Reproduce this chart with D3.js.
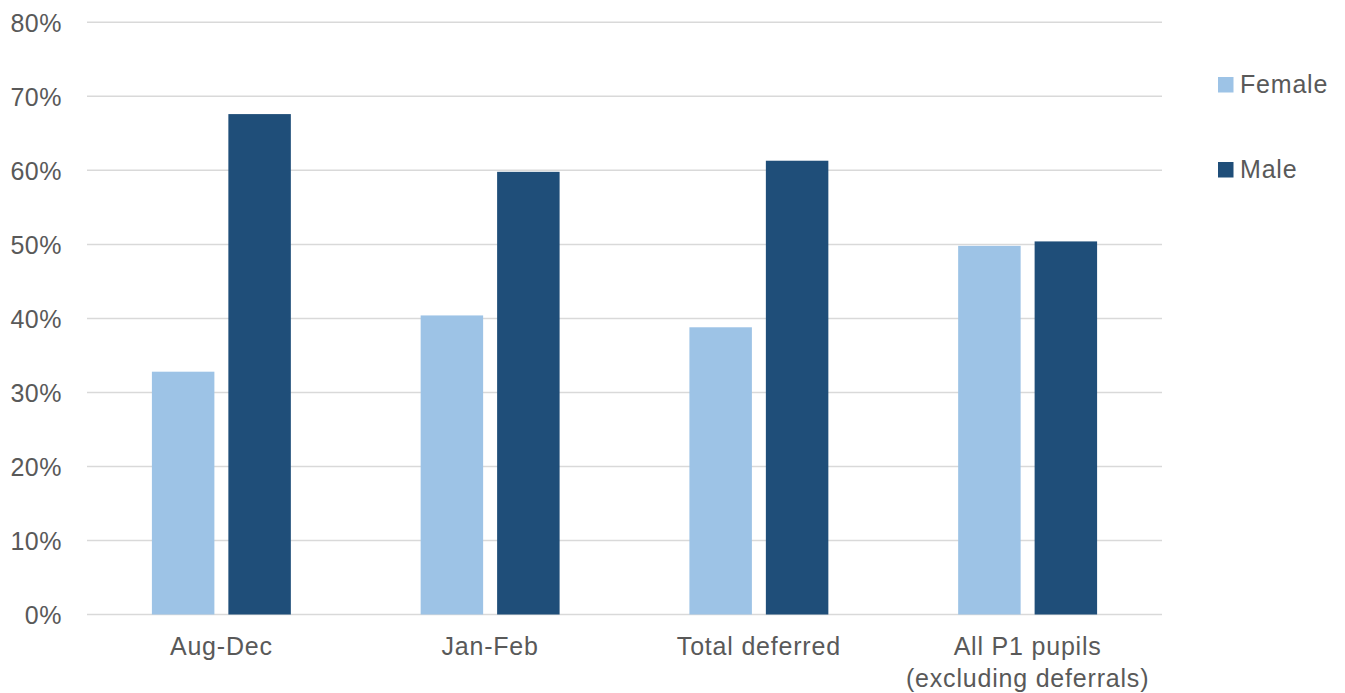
<!DOCTYPE html>
<html><head><meta charset="utf-8">
<script src="https://cdn.jsdelivr.net/npm/d3@7"></script>
<style>html,body{margin:0;padding:0;background:#fff;}</style>
</head><body><svg id="c" width="1345" height="693"></svg>
<script>
const categories = ["Aug-Dec", "Jan-Feb", "Total deferred", "All P1 pupils\n(excluding deferrals)"];
const seriesNames = ["Female", "Male"];
const female = [32.8, 40.4, 38.8, 49.8];
const male = [67.6, 59.8, 61.3, 50.4];
const yTicks = [0, 10, 20, 30, 40, 50, 60, 70, 80];
const colors = ["#9dc3e6", "#1f4e79"];

(function () {
const svg = d3.select("#c");
const font = "'Liberation Sans', Arial, sans-serif";
const pLeft = 87, pRight = 1162, pTop = 22.3, pBottom = 614.5;
const x = d3.scaleBand().domain(categories).range([pLeft, pRight]).padding(0);
const y = d3.scaleLinear().domain([0, 80]).range([pBottom, pTop]);
const bw = x.bandwidth() * 0.2325, gap = x.bandwidth() * 0.052;

// gridlines
svg.append("g").selectAll("line").data(yTicks).join("line")
  .attr("x1", pLeft).attr("x2", pRight)
  .attr("y1", d => y(d)).attr("y2", d => y(d))
  .attr("stroke", "#d9d9d9").attr("stroke-width", 1.5);

// y axis labels
const yAxis = d3.axisLeft(y).tickValues(yTicks).tickFormat(d => d + "%").tickSize(0).tickPadding(0);
const yg = svg.append("g").attr("transform", "translate(62,0)").call(yAxis);
yg.select(".domain").remove();
yg.selectAll("text").attr("font-family", font).attr("font-size", 25).attr("fill", "#595959")
  .attr("letter-spacing", 0.5).attr("dy", "0.35em");

// bars
const data = [female, male];
data.forEach((vals, si) => {
  svg.append("g").selectAll("rect").data(vals).join("rect")
    .attr("x", (d, i) => x(categories[i]) + x.bandwidth() / 2 + (si === 0 ? -gap / 2 - bw : gap / 2))
    .attr("width", bw)
    .attr("y", d => y(d))
    .attr("height", d => y(0) - y(d))
    .attr("fill", colors[si]);
});

// x labels
const xg = svg.append("g");
categories.forEach(c => {
  const lines = c.split("\n");
  const t = xg.append("text").attr("text-anchor", "middle").attr("font-family", font)
    .attr("font-size", 25).attr("letter-spacing", 0.8).attr("fill", "#595959");
  lines.forEach((l, i) => t.append("tspan").attr("x", x(c) + x.bandwidth() / 2).attr("y", 655 + i * 31.5).text(l));
});

// legend
const lg = svg.append("g");
seriesNames.forEach((s, i) => {
  const by = 92.5 + i * 85;
  lg.append("rect").attr("x", 1218).attr("y", by - 15.5).attr("width", 15.5).attr("height", 15.5).attr("fill", colors[i]);
  lg.append("text").attr("x", 1240).attr("y", by).attr("font-family", font).attr("font-size", 25)
    .attr("letter-spacing", 0.8).attr("fill", "#595959").text(s);
});
})();
</script></body></html>
